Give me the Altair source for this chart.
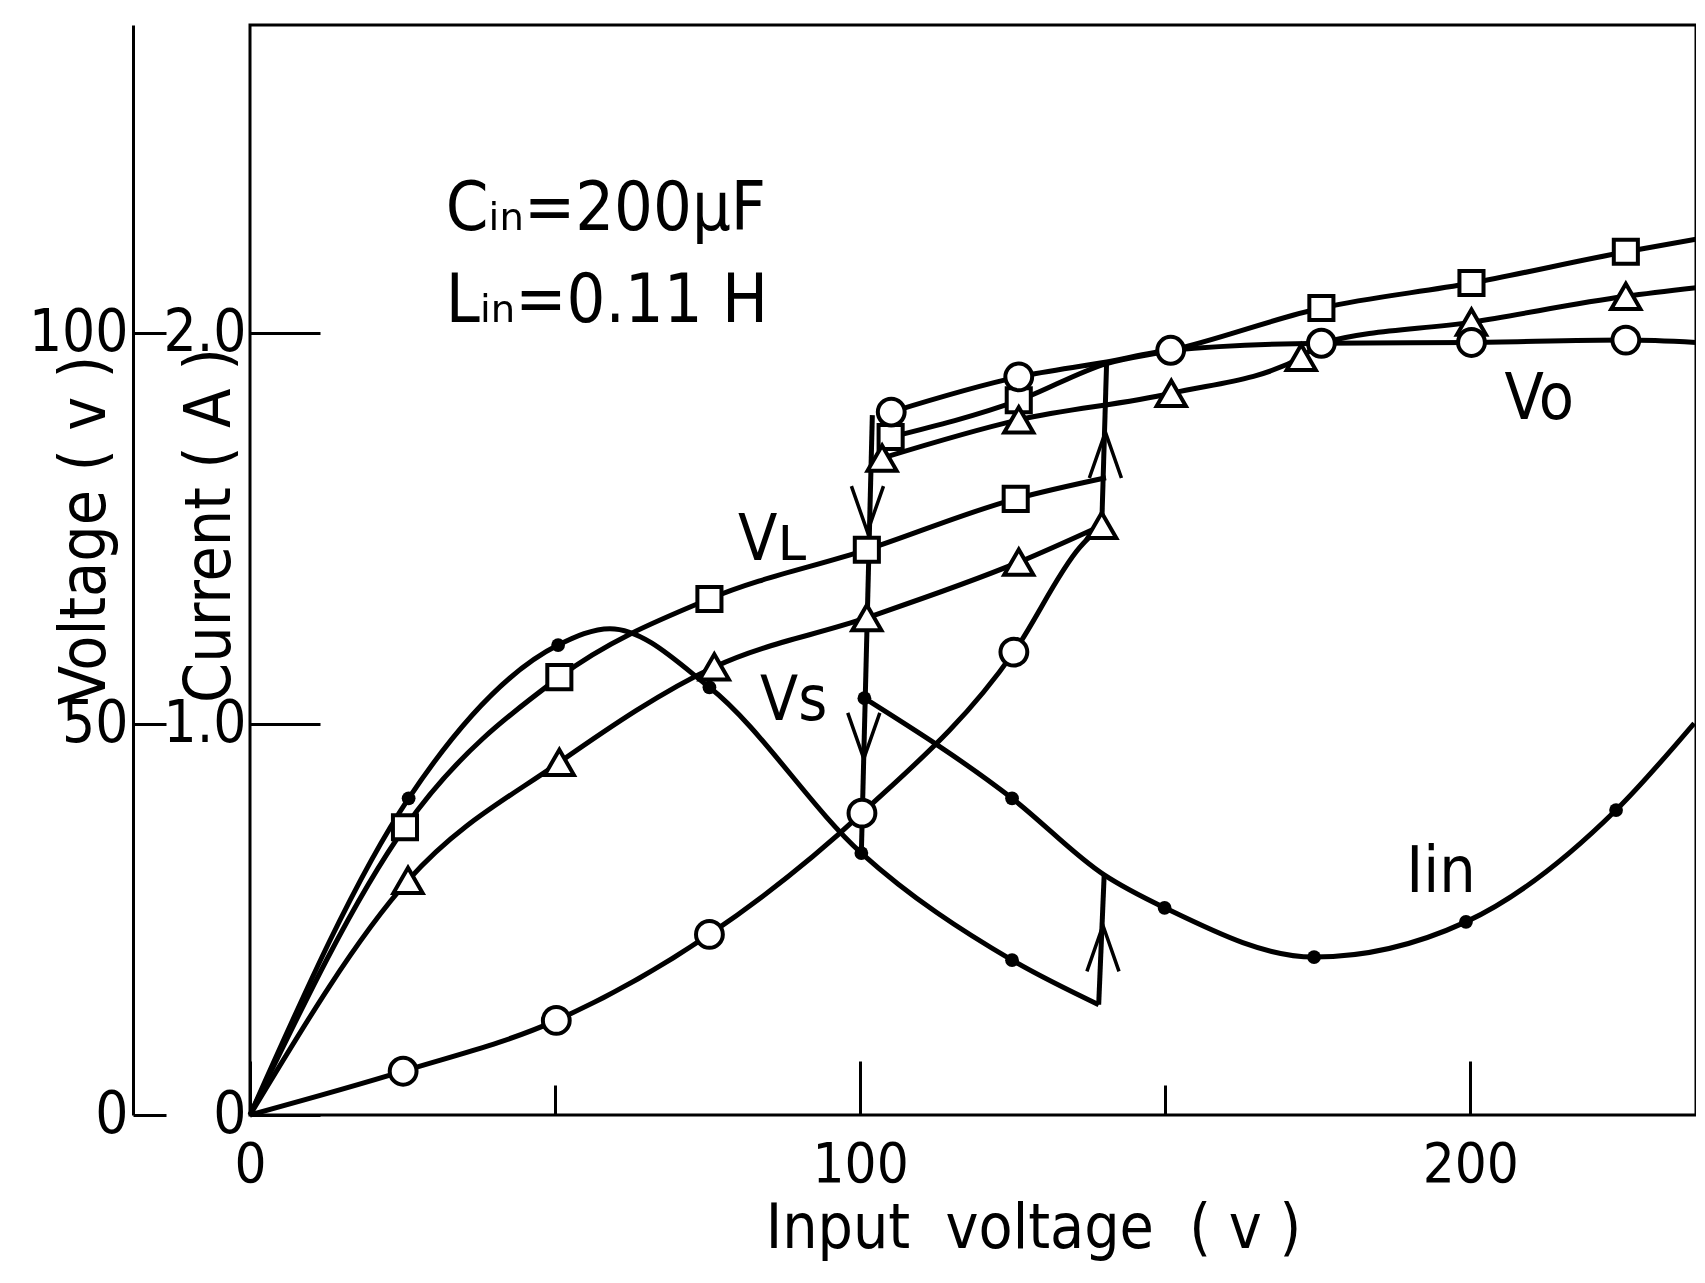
import altair as alt
import pandas as pd

FONT = "'Liberation Sans Narrow', 'DejaVu Sans Condensed', 'DejaVu Sans', sans-serif"

# ---- data (x = input voltage [V]; y in volts, current plotted as A*50) ----
vl_lo_x = [0, 25.4, 50.7, 75.3, 101.1, 125.5, 140.3]
vl_lo_y = [0, 36.8, 56.0, 66.0, 72.3, 78.8, 81.5]
vl_hi_x = [105.0, 126.0, 140.4, 151.0, 175.6, 200.2, 225.5, 237.0]
vl_hi_y = [86.7, 91.4, 96.1, 97.8, 103.2, 106.4, 110.4, 112.0]

vs_lo_x = [0, 25.9, 50.7, 76.1, 101.1, 126.0, 139.6]
vs_lo_y = [0, 30.0, 45.1, 57.3, 63.6, 70.7, 75.4]
vs_hi_x = [103.6, 126.0, 151.0, 172.3, 175.6, 200.2, 225.5, 237.0]
vs_hi_y = [84.0, 88.9, 92.3, 96.9, 98.7, 101.4, 104.7, 105.8]

vo_lo_x = [0, 25.1, 50.2, 75.3, 100.3, 125.2, 136.0, 139.6]
vo_lo_y = [0, 5.6, 12.1, 23.1, 38.6, 59.2, 72.6, 75.4]
vo_hi_x = [105.1, 126.0, 140.4, 150.9, 175.6, 200.2, 225.5, 237.0]
vo_hi_y = [89.9, 94.4, 96.3, 97.8, 98.7, 98.8, 99.1, 98.8]

iin_up_x = [0, 26.0, 50.5, 59.0, 75.3, 100.2, 124.9, 139.1]
iin_up_y = [0, 40.5, 60.1, 62.2, 54.7, 33.5, 19.8, 14.1]
iin_dn_x = [100.7, 124.9, 140.0, 149.9, 174.4, 199.3, 223.9, 236.7]
iin_dn_y = [53.3, 40.5, 30.7, 26.5, 20.2, 24.7, 39.0, 50.1]

jump100_x = [100.2, 102.0]
jump100_y = [33.5, 89.5]
jumpv140_x = [139.6, 140.4]
jumpv140_y = [75.4, 96.3]
jumpi140_x = [139.1, 140.0]
jumpi140_y = [14.1, 30.7]

# markers
sq_x = [25.4, 50.7, 75.3, 101.1, 125.5, 105.0, 126.0, 175.6, 200.2, 225.5]
sq_y = [36.8, 56.0, 66.0, 72.3, 78.8, 86.7, 91.4, 103.2, 106.4, 110.4]
tri_x = [25.9, 50.7, 76.1, 101.1, 126.0, 139.6, 103.6, 126.0, 151.0, 172.3, 200.2, 225.5]
tri_y = [30.0, 45.1, 57.3, 63.6, 70.7, 75.4, 84.0, 88.9, 92.3, 96.9, 101.4, 104.7]
cir_x = [25.1, 50.2, 75.3, 100.3, 125.2, 105.1, 126.0, 150.9, 175.6, 200.2, 225.5]
cir_y = [5.6, 12.1, 23.1, 38.6, 59.2, 89.9, 94.4, 97.8, 98.7, 98.8, 99.1]
dot_x = [26.0, 50.5, 75.3, 100.2, 124.9, 100.7, 124.9, 149.9, 174.4, 199.3, 223.9]
dot_y = [40.5, 60.1, 54.7, 33.5, 19.8, 53.3, 40.5, 26.5, 20.2, 24.7, 39.0]

arrow_down_x = [101.2, 100.6]
arrow_down_y = [77.5, 48.5]
arrow_up_x = [140.2, 139.8]
arrow_up_y = [84.4, 21.3]

note_text = ["C\u1d62\u2099=200\u03bcF", "L\u1d62\u2099=0.11 H", "V\u029f", "Vs", "Vo", "Iin"]
note_x = [32.1, 32.1, 80.0, 83.6, 205.6, 189.5]
note_y = [113.2, 101.4, 71.0, 50.5, 89.0, 28.5]
note_size = [68, 68, 64, 62, 64, 64]

# ---- tables ----
segs = [
    ("vl_lo", vl_lo_x, vl_lo_y), ("vl_hi", vl_hi_x, vl_hi_y),
    ("vs_lo", vs_lo_x, vs_lo_y), ("vs_hi", vs_hi_x, vs_hi_y),
    ("vo_lo", vo_lo_x, vo_lo_y), ("vo_hi", vo_hi_x, vo_hi_y),
    ("iin_up", iin_up_x, iin_up_y), ("iin_dn", iin_dn_x, iin_dn_y),
    ("j100", jump100_x, jump100_y), ("jv140", jumpv140_x, jumpv140_y),
    ("ji140", jumpi140_x, jumpi140_y),
]
rows = []
for name, xs, ys in segs:
    for a, b in zip(xs, ys):
        rows.append({"seg": name, "x": a, "y": b})
line_df = pd.DataFrame(rows)

mk_rows = []
for kind, xs, ys, sz in [("VL", sq_x, sq_y, 580), ("Vs", tri_x, tri_y, 850), ("Vo", cir_x, cir_y, 720)]:
    for a, b in zip(xs, ys):
        mk_rows.append({"kind": kind, "x": a, "y": b, "sz": sz})
mk_df = pd.DataFrame(mk_rows)
dot_df = pd.DataFrame({"x": dot_x, "y": dot_y})
adown_df = pd.DataFrame({"x": arrow_down_x, "y": arrow_down_y})
aup_df = pd.DataFrame({"x": arrow_up_x, "y": arrow_up_y})
note_df = pd.DataFrame({"x": note_x, "y": note_y, "t": note_text, "s": note_size})

# ---- scales / axes ----
x_scale = alt.Scale(domain=[0, 237.0], nice=False, zero=False)
y_scale = alt.Scale(domain=[0, 139.4], nice=False, zero=False)

x_main_axis = alt.Axis(
    orient="bottom", values=[0, 100, 200], offset=-54, tickSize=54, tickWidth=3,
    domain=False, grid=False, labelFontSize=56, labelPadding=22, labelFlush=False,
    title="Input\u00a0\u00a0voltage\u00a0\u00a0(\u00a0v\u00a0)", titleFontSize=62,
    titleX=783, titleY=186, titleAlign="center", titleBaseline="alphabetic",
)
x_minor_axis = alt.Axis(
    orient="bottom", values=[50, 150], offset=-30, tickSize=30, tickWidth=3,
    domain=False, grid=False, labels=False,
)
y_cur_axis = alt.Axis(
    orient="left", values=[0, 50, 100],
    labelExpr="datum.value == 0 ? '0' : format(datum.value / 50, '.1f')",
    offset=-70, tickSize=70, tickWidth=3, domain=False, grid=False,
    labelFontSize=58, labelPadding=4, labelFlush=False,
    title="Current\u00a0(\u00a0A\u00a0)", titleFontSize=64, titleAngle=270,
    titleX=-110, titleY=500, titleAlign="center", titleBaseline="middle",
)
y_volt_axis = alt.Axis(
    orient="left", values=[0, 50, 100], format="d", offset=117, ticks=False,
    domain=True, domainWidth=3, grid=False, labelFontSize=58, labelPadding=5,
    labelFlush=False,
    title="Voltage\u00a0(\u00a0v\u00a0)", titleFontSize=64, titleAngle=270,
    titleX=-48, titleY=505, titleAlign="center", titleBaseline="middle",
)
y_vtick_axis = alt.Axis(
    orient="left", values=[0, 50, 100], offset=84, tickSize=33, tickWidth=3,
    domain=False, grid=False, labels=False,
)

lines_layer = alt.Chart(line_df).mark_line(
    interpolate="monotone", color="black", strokeWidth=5
).encode(
    x=alt.X("x:Q", scale=x_scale, axis=x_main_axis),
    y=alt.Y("y:Q", scale=y_scale, axis=y_cur_axis),
    detail="seg:N",
)

markers_layer = alt.Chart(mk_df).mark_point(
    filled=True, fill="white", stroke="black", strokeWidth=4, opacity=1
).encode(
    x=alt.X("x:Q", scale=x_scale, axis=x_minor_axis, title=None),
    y=alt.Y("y:Q", scale=y_scale, axis=y_volt_axis),
    shape=alt.Shape("kind:N", scale=alt.Scale(domain=["VL", "Vs", "Vo"],
                    range=["square", "triangle-up", "circle"]), legend=None),
    size=alt.Size("sz:Q", scale=None),
)

dots_layer = alt.Chart(dot_df).mark_circle(color="black", size=190, opacity=1).encode(
    x=alt.X("x:Q", scale=x_scale, axis=None),
    y=alt.Y("y:Q", scale=y_scale, axis=y_vtick_axis, title=None),
)

down_path = "M-0.7,-1L0,1L0.7,-1"
up_path = "M-0.7,1L0,-1L0.7,1"
adown_layer = alt.Chart(adown_df).mark_point(
    shape=down_path, filled=False, stroke="black", strokeWidth=3.5, size=2100, opacity=1
).encode(
    x=alt.X("x:Q", scale=x_scale, axis=None),
    y=alt.Y("y:Q", scale=y_scale, axis=None),
)
aup_layer = alt.Chart(aup_df).mark_point(
    shape=up_path, filled=False, stroke="black", strokeWidth=3.5, size=2100, opacity=1
).encode(
    x=alt.X("x:Q", scale=x_scale, axis=None),
    y=alt.Y("y:Q", scale=y_scale, axis=None),
)

text_layer = alt.Chart(note_df).mark_text(
    align="left", baseline="alphabetic", font=FONT, color="black"
).encode(
    x=alt.X("x:Q", scale=x_scale, axis=None),
    y=alt.Y("y:Q", scale=y_scale, axis=None),
    text="t:N",
    size=alt.Size("s:Q", scale=None),
)

chart = alt.layer(
    lines_layer, markers_layer, dots_layer, adown_layer, aup_layer, text_layer
).resolve_axis(x="independent", y="independent").properties(
    width=1446, height=1090,
    autosize=alt.AutoSizeParams(type="none"),
    padding={"left": 242, "top": 17, "right": 0, "bottom": 155},
    background="white",
).configure_view(
    stroke="black", strokeWidth=3
).configure_axis(
    labelFont=FONT, titleFont=FONT, labelColor="black", titleColor="black",
    tickColor="black", domainColor="black", titleFontWeight="normal",
)

chart.save("out.html", embed_options={"renderer": "svg", "actions": False})
